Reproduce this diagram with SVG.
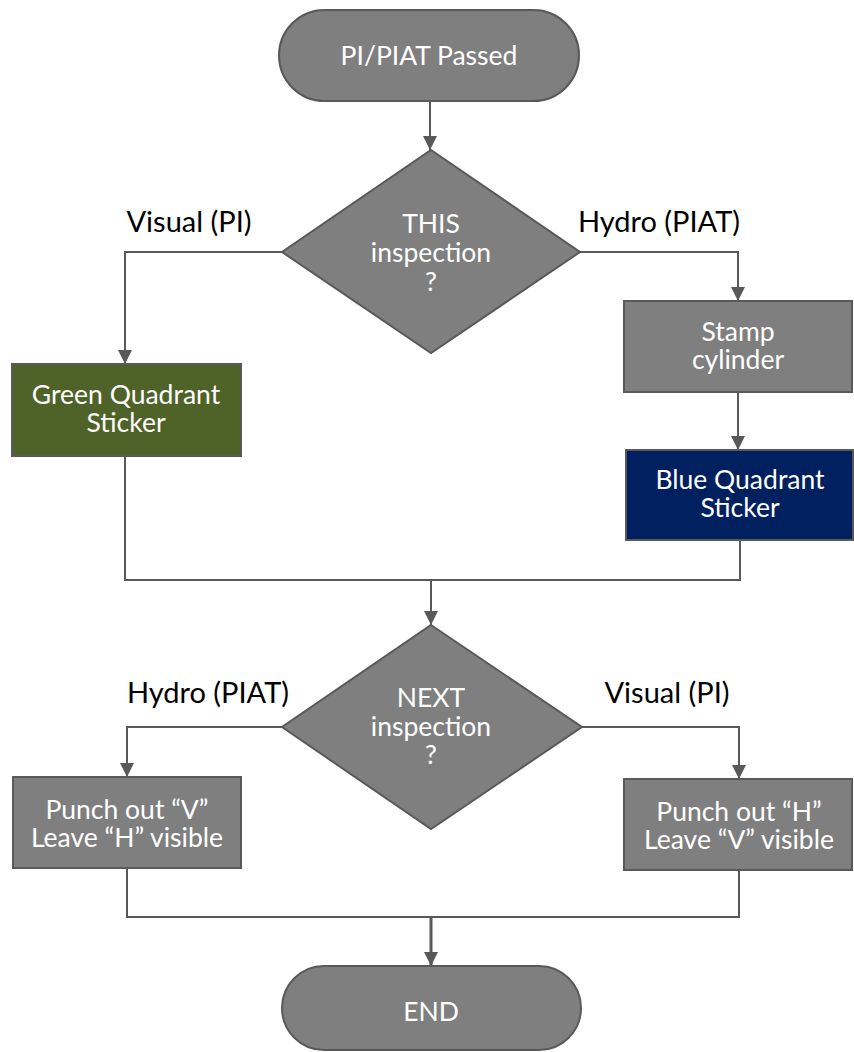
<svg xmlns="http://www.w3.org/2000/svg" width="854" height="1052" viewBox="0 0 854 1052">
<defs>
<style>
.node{fill:#7f7f7f;stroke:#595959;stroke-width:2}
.green{fill:#4f6228}
.blue{fill:#002060}
.t{font-family:Lato,"Liberation Sans",sans-serif;font-size:26.5px;fill:#ffffff;text-anchor:middle}
.lbl{font-family:Lato,"Liberation Sans",sans-serif;font-size:29px;fill:#000000;text-anchor:middle}
.c{fill:none;stroke:#595959;stroke-width:2}
</style>
<marker id="ah" markerUnits="userSpaceOnUse" markerWidth="14" markerHeight="16" refX="14" refY="7" orient="auto">
<path d="M0,0 L14,7 L0,14 Z" fill="#595959"/>
</marker>
</defs>
<g id="connectors">
<path class="c" d="M430,101 V150" marker-end="url(#ah)"/>
<path class="c" d="M282,252 H125 V364" marker-end="url(#ah)"/>
<path class="c" d="M580,252 H738 V301" marker-end="url(#ah)"/>
<path class="c" d="M738,392 V450" marker-end="url(#ah)"/>
<path class="c" d="M125,456 V580 H740 V540"/>
<path class="c" d="M431,580 V625" marker-end="url(#ah)"/>
<path class="c" d="M282,727 H127 V777" marker-end="url(#ah)"/>
<path class="c" d="M582,727 H739 V779" marker-end="url(#ah)"/>
<path class="c" d="M127,868 V917 H739 V870"/>
<path class="c" d="M431,917 V966" style="stroke-width:3" marker-end="url(#ah)"/>
<text class="lbl" x="189" y="232">Visual (PI)</text>
<text class="lbl" x="659" y="232">Hydro (PIAT)</text>
<text class="lbl" x="208" y="703">Hydro (PIAT)</text>
<text class="lbl" x="667" y="703">Visual (PI)</text>
</g>
<g id="start">
<rect class="node" x="279" y="10" width="300" height="91" rx="45.5"/>
<text class="t" x="429" y="65">PI/PIAT Passed</text>
</g>
<g id="this-inspection">
<polygon class="node" points="431,150 580,252 431,353 282,252"/>
<text class="t" x="431" y="233"><tspan x="431">THIS</tspan><tspan x="431" dy="29">inspection</tspan><tspan x="431" dy="29">?</tspan></text>
</g>
<g id="green-sticker">
<rect class="node green" x="12" y="364" width="229" height="92"/>
<text class="t" x="126" y="404"><tspan x="126">Green Quadrant</tspan><tspan x="126" dy="28">Sticker</tspan></text>
</g>
<g id="stamp">
<rect class="node" x="624" y="301" width="228" height="91"/>
<text class="t" x="738" y="341"><tspan x="738">Stamp</tspan><tspan x="738" dy="28">cylinder</tspan></text>
</g>
<g id="blue-sticker">
<rect class="node blue" x="626" y="450" width="227" height="90"/>
<text class="t" x="740" y="489"><tspan x="740">Blue Quadrant</tspan><tspan x="740" dy="28">Sticker</tspan></text>
</g>
<g id="next-inspection">
<polygon class="node" points="431,625 582,727 431,829 282,727"/>
<text class="t" x="431" y="707"><tspan x="431">NEXT</tspan><tspan x="431" dy="29">inspection</tspan><tspan x="431" dy="28">?</tspan></text>
</g>
<g id="punch-v">
<rect class="node" x="13" y="777" width="228" height="91"/>
<text class="t" x="127" y="819"><tspan x="127">Punch out “V”</tspan><tspan x="127" dy="28">Leave “H” visible</tspan></text>
</g>
<g id="punch-h">
<rect class="node" x="624" y="779" width="228" height="91"/>
<text class="t" x="739" y="821"><tspan x="739">Punch out “H”</tspan><tspan x="739" dy="28">Leave “V” visible</tspan></text>
</g>
<g id="end">
<rect class="node" x="282" y="966" width="299" height="84" rx="42"/>
<text class="t" x="431" y="1021">END</text>
</g>
</svg>
